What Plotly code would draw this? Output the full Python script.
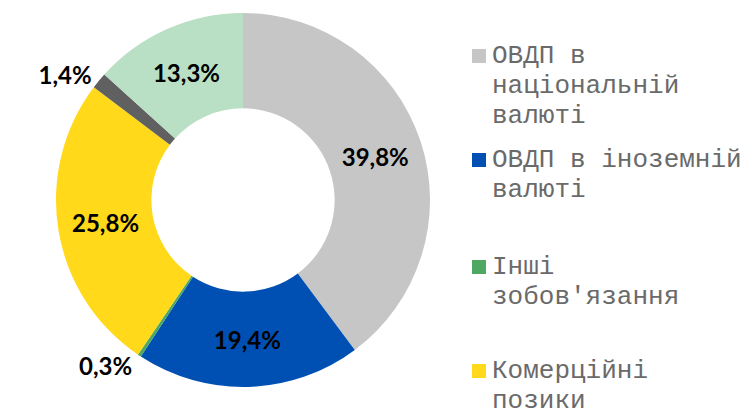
import plotly.graph_objects as go

labels = ["ОВДП в національній валюті", "ОВДП в іноземній валюті", "Інші зобов'язання",
          "Комерційні позики", "Гарантії", "Кредити МФО"]
legend_lines = [["ОВДП в", "національній", "валюті"], ["ОВДП в іноземній", "валюті"],
                ["Інші", "зобов'язання"], ["Комерційні", "позики"]]
values = [39.8, 19.4, 0.3, 25.8, 1.4, 13.3]
colors = ["#C6C6C6", "#0050B4", "#4EA862", "#FFD91A", "#606060", "#B9DFC4"]
text_pos = ["inside", "inside", "outside", "inside", "outside", "inside"]

W, H = 753, 410

fig = go.Figure()
fig.add_trace(go.Pie(
    labels=labels, values=values, sort=False, direction="clockwise", rotation=0,
    hole=0.49,
    text=[f"{v:.1f}".replace(".", ",") + "%" for v in values],
    textinfo="text", textposition=text_pos, insidetextorientation="horizontal",
    textfont=dict(family="Lato", size=24, color="black", weight="bold"),
    marker=dict(colors=colors, line=dict(width=0)),
    domain=dict(x=[56 / W, 430 / W], y=[23 / H, 397 / H]),
    showlegend=False, hoverinfo="label+percent",
))

# legend drawn by hand: fixed spacing like the original
legend_y = [56, 160, 267, 371]
line_step = 30
for i, lines in enumerate(legend_lines):
    yc = legend_y[i]
    fig.add_shape(type="rect", xref="paper", yref="paper",
                  x0=472 / W, x1=486 / W, y0=1 - (yc - 7) / H, y1=1 - (yc + 7) / H,
                  fillcolor=colors[i], line=dict(width=0))
    for j, ln in enumerate(lines):
        fig.add_annotation(x=490 / W, y=1 - (yc + j * line_step) / H, xref="paper", yref="paper",
                           xanchor="left", yanchor="middle", showarrow=False, text=ln,
                           font=dict(family="Liberation Mono", size=26, color="#6A6A6A"))

fig.update_layout(width=W, height=H, margin=dict(l=0, r=0, t=0, b=0),
                  paper_bgcolor="white", plot_bgcolor="white")
# drop the default 8px body margin so the figure fills the window
fig.write_html("out.html", config={"displayModeBar": False},
               post_script="document.body.style.margin='0';")
